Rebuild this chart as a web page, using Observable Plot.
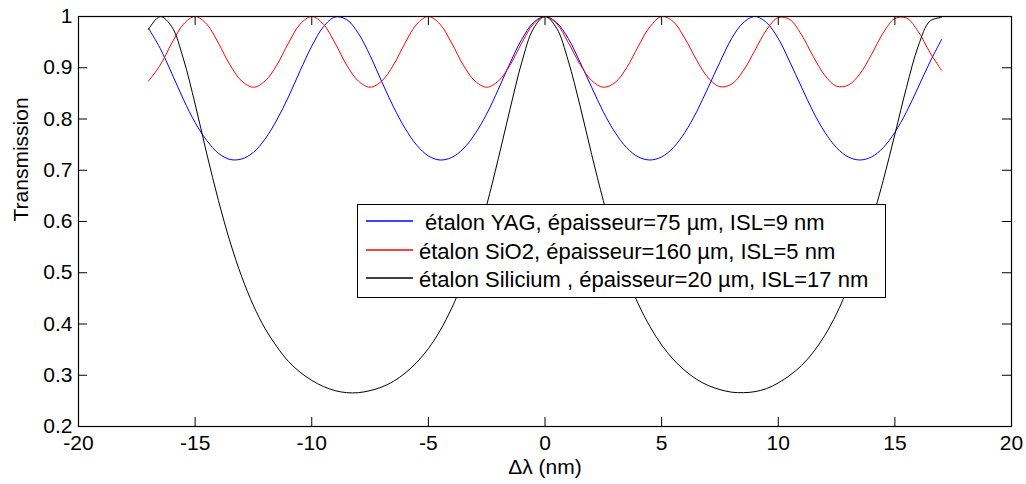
<!DOCTYPE html>
<html><head><meta charset="utf-8">
<script src="https://cdn.jsdelivr.net/npm/d3@7"></script>
<script src="https://cdn.jsdelivr.net/npm/@observablehq/plot@0.6"></script>
<style>
body{margin:0;background:#fff;font-family:"Liberation Sans",Arial,sans-serif;}
#wrap{position:relative;width:1026px;height:484px;overflow:hidden;}
#legend{position:absolute;left:357px;top:204px;width:529px;height:94px;border:1px solid #000;background:#fff;box-sizing:border-box;}
.row{position:absolute;left:61px;height:26px;line-height:26px;font-size:22px;white-space:pre;color:#000;}
.sample{position:absolute;left:8px;top:0;}
</style>
</head><body>
<div id="wrap"></div>
<script>
// Wavelength offsets (nm)
const xs = [-17,-16.5,-16,-15.5,-15,-14.5,-14,-13.5,-13,-12.5,-12,-11.5,-11,-10.5,-10,-9.5,-9,-8.5,-8,-7.5,-7,-6.5,-6,-5.5,-5,-4.5,-4,-3.5,-3,-2.5,-2,-1.5,-1,-0.5,
  0,0.5,1,1.5,2,2.5,3,3.5,4,4.5,5,5.5,6,6.5,7,7.5,8,8.5,9,9.5,10,10.5,11,11.5,12,12.5,13,13.5,14,14.5,15,15.5,16,16.5,17];

const yag = [0.977,0.938,0.889,0.838,0.793,0.758,0.733,0.721,0.722,0.735,0.761,0.798,0.843,0.894,0.942,0.980,0.999,0.994,0.967,0.924,0.873,0.824,0.782,0.749,0.728,0.720,0.725,0.742,0.771,0.810,0.858,0.909,0.955,0.988,
  1.000,0.988,0.957,0.911,0.862,0.814,0.774,0.744,0.726,0.720,0.726,0.744,0.774,0.814,0.862,0.911,0.957,0.988,1.000,0.988,0.957,0.911,0.862,0.814,0.774,0.744,0.726,0.720,0.726,0.744,0.774,0.814,0.862,0.911,0.955];

const sio2 = [0.874,0.905,0.948,0.985,1.000,0.985,0.948,0.905,0.874,0.862,0.874,0.905,0.948,0.985,1.000,0.985,0.948,0.905,0.874,0.862,0.874,0.905,0.948,0.985,1.000,0.985,0.948,0.905,0.874,0.862,0.874,0.905,0.948,0.985,
  1.000,0.986,0.949,0.907,0.875,0.862,0.871,0.900,0.942,0.980,1.000,0.990,0.957,0.915,0.880,0.863,0.868,0.894,0.934,0.974,0.998,0.994,0.964,0.922,0.885,0.864,0.866,0.888,0.926,0.968,0.996,0.997,0.971,0.930,0.895];

const silicium = [0.975,1.000,0.980,0.917,0.829,0.732,0.641,0.560,0.492,0.436,0.391,0.356,0.327,0.306,0.290,0.278,0.270,0.266,0.266,0.270,0.277,0.288,0.304,0.325,0.352,0.387,0.431,0.485,0.552,0.632,0.723,0.819,0.910,0.976,
  1.000,0.977,0.913,0.826,0.731,0.641,0.562,0.494,0.439,0.395,0.359,0.331,0.309,0.292,0.280,0.272,0.267,0.266,0.268,0.274,0.285,0.300,0.319,0.345,0.378,0.420,0.472,0.532,0.600,0.680,0.770,0.862,0.942,0.991,0.998];

const seriesNames = [" étalon YAG, épaisseur=75 µm, ISL=9 nm", "étalon SiO2, épaisseur=160 µm, ISL=5 nm", "étalon Silicium , épaisseur=20 µm, ISL=17 nm"];
const seriesColors = ["#0000ff", "#ff0000", "#000000"];
const seriesValues = [yag, sio2, silicium];

const xTicks = [-20,-15,-10,-5,0,5,10,15,20];
const xTickLabels = ["-20","-15","-10","-5","0","5","10","15","20"];
const yTicks = [0.2,0.3,0.4,0.5,0.6,0.7,0.8,0.9,1];
const yTickLabels = ["0.2","0.3","0.4","0.5","0.6","0.7","0.8","0.9","1"];
const xLabel = "Δλ (nm)";
const yLabel = "Transmission";

const rows = [];
seriesValues.forEach((vals, si) => xs.forEach((x, i) => rows.push({x, y: vals[i], s: seriesNames[si]})));

const W = 1026, H = 484, mL = 78, mR = 15, mT = 16, mB = 58;
const pw = W - mL - mR, ph = H - mT - mB, tl = 9;

const chart = Plot.plot({
  width: W, height: H,
  marginLeft: mL, marginRight: mR, marginTop: mT, marginBottom: mB,
  style: {fontFamily: '"Liberation Sans", Arial, sans-serif', fontSize: "21px", color: "#000", background: "#fff"},
  x: {domain: [-20, 20]},
  y: {domain: [0.2, 1]},
  color: {domain: seriesNames, range: seriesColors},
  marks: [
    Plot.line(rows, {x: "x", y: "y", z: "s", stroke: "s", strokeWidth: 1, curve: "catmull-rom"}),
    Plot.frame({stroke: "#000", strokeWidth: 1.2}),
    Plot.tickX(xTicks, {x: d => d, insetTop: ph - tl, stroke: "#000"}),
    Plot.tickX(xTicks, {x: d => d, insetBottom: ph - tl, stroke: "#000"}),
    Plot.tickY(yTicks, {y: d => d, insetRight: pw - tl, stroke: "#000"}),
    Plot.tickY(yTicks, {y: d => d, insetLeft: pw - tl, stroke: "#000"}),
    Plot.axisX({ticks: xTicks, tickSize: 0, tickPadding: 9, tickFormat: (d, i) => xTickLabels[i], label: null, fill: "#000", fontSize: 21}),
    Plot.axisY({ticks: yTicks, tickSize: 0, tickPadding: 6, tickFormat: (d, i) => yTickLabels[i], label: null, fill: "#000", fontSize: 21}),
    Plot.text([xLabel], {frameAnchor: "bottom", dy: 47, fill: "#000", fontSize: 21}),
    Plot.text([yLabel], {frameAnchor: "left", rotate: -90, dx: -57, fill: "#000", fontSize: 21})
  ]
});
const wrap = document.getElementById("wrap");
wrap.appendChild(chart);

// Legend box
const legend = document.createElement("div");
legend.id = "legend";
const centers = [19, 48, 76];
const NS = "http://www.w3.org/2000/svg";
const svg = document.createElementNS(NS, "svg");
svg.setAttribute("class", "sample");
svg.setAttribute("width", "48");
svg.setAttribute("height", "92");
legend.appendChild(svg);
seriesNames.forEach((name, i) => {
  const ln = document.createElementNS(NS, "line");
  ln.setAttribute("x1", "0"); ln.setAttribute("x2", "47");
  ln.setAttribute("y1", String(centers[i] - 3)); ln.setAttribute("y2", String(centers[i] - 3));
  ln.setAttribute("stroke", seriesColors[i]);
  ln.setAttribute("stroke-width", "1.3");
  svg.appendChild(ln);
  const t = document.createElement("div");
  t.className = "row";
  t.style.top = (centers[i] - 14) + "px";
  t.textContent = name;
  legend.appendChild(t);
});
wrap.appendChild(legend);
</script>
</body></html>
